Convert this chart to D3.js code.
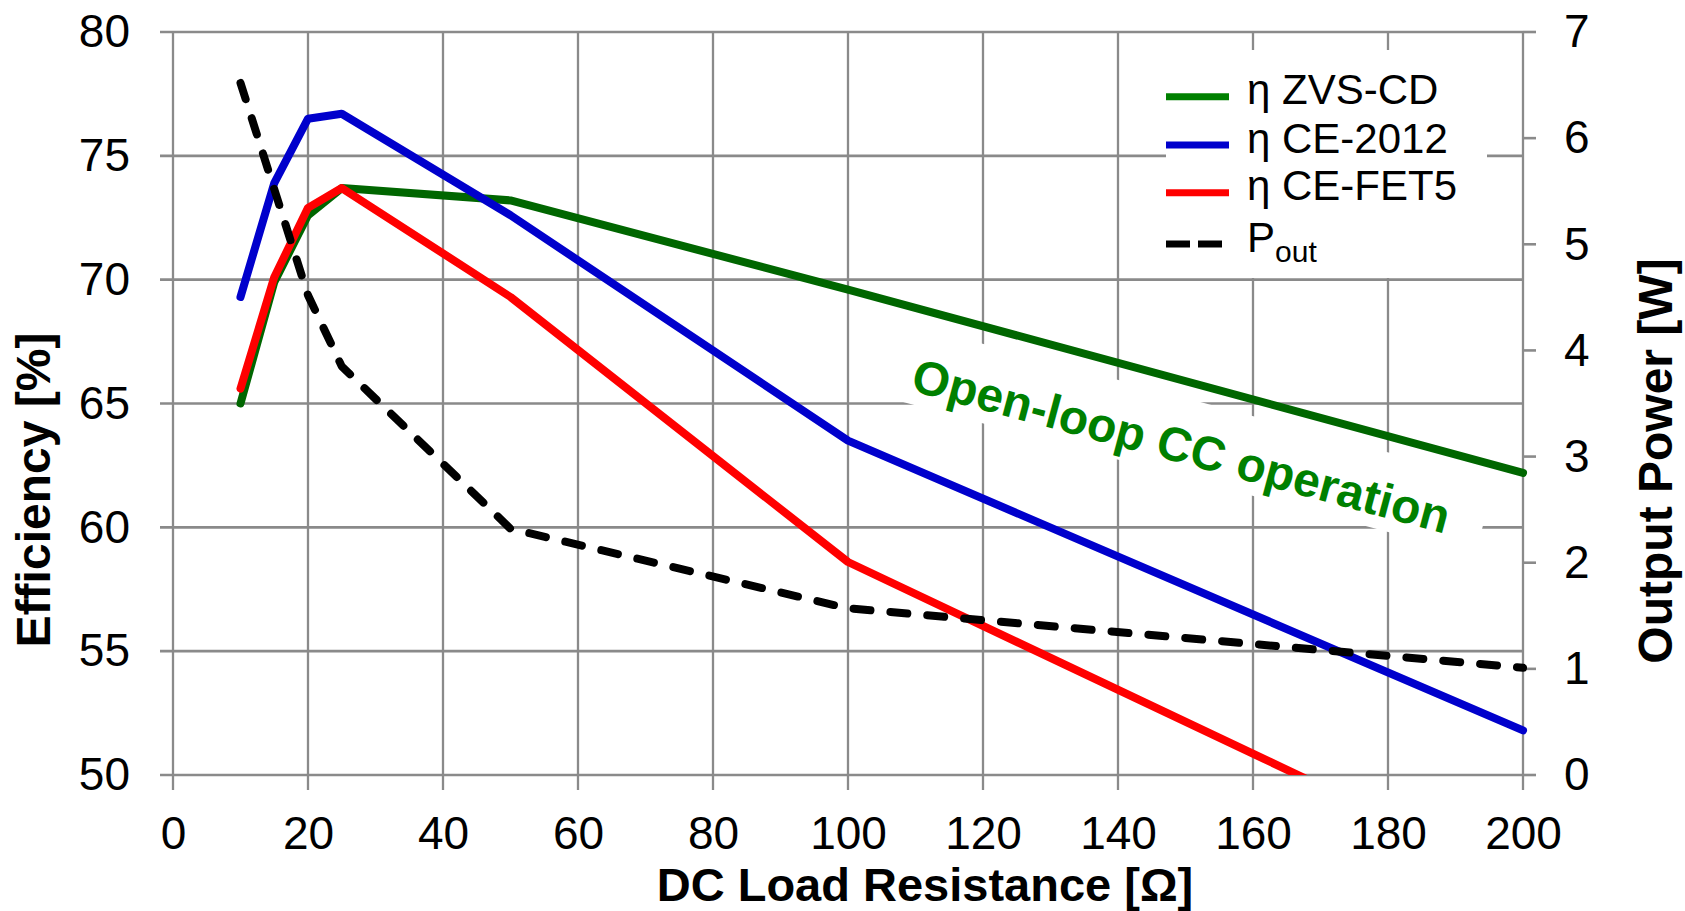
<!DOCTYPE html>
<html>
<head>
<meta charset="utf-8">
<script src="https://cdn.jsdelivr.net/npm/d3@7"></script>
<style>
  html, body { margin: 0; padding: 0; background: #fff; }
  svg { display: block; font-family: "Liberation Sans", Arial, sans-serif; }
</style>
</head>
<body>
<svg id="chart" width="1685" height="911"></svg>
<script>
// ---- data ----
const loadR      = [10, 15, 20, 25, 50, 100, 200];
const etaZVSCD   = [65.0, 69.9, 72.6, 73.7, 73.2, 69.6, 62.2];
const etaCE2012  = [69.3, 73.9, 76.5, 76.7, 72.6, 63.5, 51.8];
const etaCEFET5  = [65.6, 70.1, 72.9, 73.7, 69.3, 58.6, 45.7];
const pOut       = [6.52, 5.52, 4.52, 3.85, 2.32, 1.57, 1.01];

const xTicks     = [0, 20, 40, 60, 80, 100, 120, 140, 160, 180, 200];
const effTicks   = [50, 55, 60, 65, 70, 75, 80];
const powTicks   = [0, 1, 2, 3, 4, 5, 6, 7];

const seriesNames = ["η ZVS-CD", "η CE-2012", "η CE-FET5", "P"];
const xTitle = "DC Load Resistance [Ω]";
const yLeftTitle = "Efficiency [%]";
const yRightTitle = "Output Power [W]";
const noteText = "Open-loop CC operation";

// ---- layout ----
const L = 173, R = 1523, T = 32, B = 775;
const gridCol = "#8a8a8a";
const svg = d3.select("#chart");

const x  = d3.scaleLinear().domain([0, 200]).range([L, R]);
const yL = d3.scaleLinear().domain([50, 80]).range([B, T]);
const yR = d3.scaleLinear().domain([0, 7]).range([B, T]);

// grid lines
svg.append("g").selectAll("line").data(effTicks).join("line")
  .attr("x1", L - 13).attr("x2", R)
  .attr("y1", d => yL(d)).attr("y2", d => yL(d))
  .attr("stroke", gridCol).attr("stroke-width", 2.6);
svg.append("g").selectAll("line").data(xTicks).join("line")
  .attr("x1", d => x(d)).attr("x2", d => x(d))
  .attr("y1", T).attr("y2", B + 15)
  .attr("stroke", gridCol).attr("stroke-width", 2.3);
svg.append("g").selectAll("line").data(powTicks).join("line")
  .attr("x1", R).attr("x2", R + 13)
  .attr("y1", d => yR(d)).attr("y2", d => yR(d))
  .attr("stroke", gridCol).attr("stroke-width", 2.6);

// axes (labels only)
function styleAxis(g) {
  g.select(".domain").remove();
  g.selectAll(".tick line").remove();
  g.attr("font-family", "Liberation Sans, Arial, sans-serif").attr("font-size", 46);
  g.selectAll("text").attr("fill", "#000");
}
svg.append("g").attr("transform", `translate(${L},0)`)
  .call(d3.axisLeft(yL).tickValues(effTicks).tickSize(0).tickPadding(43).tickFormat(d3.format("d")))
  .call(styleAxis);
svg.append("g").attr("transform", `translate(${R},0)`)
  .call(d3.axisRight(yR).tickValues(powTicks).tickSize(0).tickPadding(41).tickFormat(d3.format("d")))
  .call(styleAxis);
svg.append("g").attr("transform", `translate(0,${B})`)
  .call(d3.axisBottom(x).tickValues(xTicks).tickSize(0).tickPadding(41).tickFormat(d3.format("d")))
  .call(styleAxis);

// axis titles
svg.append("text").text(xTitle)
  .attr("x", 925).attr("y", 901).attr("text-anchor", "middle")
  .attr("font-size", 47).attr("font-weight", "bold");
svg.append("text").text(yLeftTitle)
  .attr("transform", "translate(50,490) rotate(-90)").attr("text-anchor", "middle")
  .attr("font-size", 48).attr("font-weight", "bold");
svg.append("text").text(yRightTitle)
  .attr("transform", "translate(1672,461) rotate(-90)").attr("text-anchor", "middle")
  .attr("font-size", 48).attr("font-weight", "bold");

// legend background
svg.append("rect").attr("x", 1166).attr("y", 50).attr("width", 321).attr("height", 228).attr("fill", "#fff");

// annotation with white box
const note = svg.append("g").attr("transform", "translate(1177,462) rotate(15)");
note.append("rect").attr("x", -312).attr("y", -64).attr("width", 624).attr("height", 77).attr("fill", "#fff");
note.append("text").text(noteText).attr("text-anchor", "middle")
  .attr("font-size", 48).attr("font-weight", "bold").attr("fill", "#008000");

// clip
svg.append("clipPath").attr("id", "plotclip").append("rect")
  .attr("x", L - 10).attr("y", T - 10).attr("width", R - L + 20).attr("height", B - T + 10);

const plot = svg.append("g").attr("clip-path", "url(#plotclip)");
const lineL = d3.line().x((d, i) => x(loadR[i])).y(d => yL(d));
const lineR = d3.line().x((d, i) => x(loadR[i])).y(d => yR(d));

const effSeries = [
  { v: etaZVSCD,  c: "#006600" },
  { v: etaCE2012, c: "#0000cc" },
  { v: etaCEFET5, c: "#ff0000" }
];
effSeries.forEach(s => {
  plot.append("path").attr("d", lineL(s.v)).attr("fill", "none")
    .attr("stroke", s.c).attr("stroke-width", 8)
    .attr("stroke-linejoin", "round").attr("stroke-linecap", "round");
});
plot.append("path").attr("d", lineR(pOut)).attr("fill", "none")
  .attr("stroke", "#000").attr("stroke-width", 8)
  .attr("stroke-dasharray", "17,20")
  .attr("stroke-linejoin", "round").attr("stroke-linecap", "round");

// legend
const legCols = ["#008000", "#0000cc", "#ff0000", "#000"];
const legY = [96.7, 145, 192.7, 244];
const leg = svg.append("g");
legCols.forEach((c, i) => {
  leg.append("line").attr("x1", 1166).attr("x2", 1229)
    .attr("y1", legY[i]).attr("y2", legY[i])
    .attr("stroke", c).attr("stroke-width", 7)
    .attr("stroke-dasharray", i === 3 ? "24,8" : null);
  const t = leg.append("text").attr("x", 1247).attr("y", legY[i] + 7.5)
    .attr("font-size", 42).attr("fill", "#000");
  if (i < 3) {
    t.text(seriesNames[i]);
  } else {
    t.append("tspan").text(seriesNames[i]);
    t.append("tspan").text("out").attr("font-size", 30).attr("dy", 10);
  }
});
</script>
</body>
</html>
